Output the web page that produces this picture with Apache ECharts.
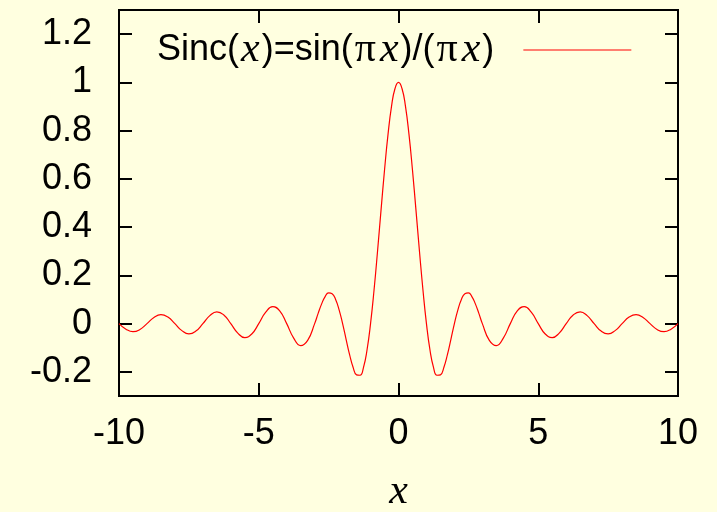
<!DOCTYPE html>
<html>
<head>
<meta charset="utf-8">
<script src="https://cdn.jsdelivr.net/npm/echarts@6/dist/echarts.min.js"></script>
<style>
  html, body { margin: 0; padding: 0; background: #ffffe0; }
  #chart { width: 717px; height: 512px; }
</style>
</head>
<body>
<div id="chart"></div>
<script>
// sample points (denser around the main lobe)
var xValues = [-10, -9.75, -9.5, -9.25, -9, -8.75, -8.5, -8.25, -8, -7.75, -7.5, -7.25, -7,
  -6.75, -6.5, -6.25, -6, -5.75, -5.5, -5.25, -5, -4.75, -4.5, -4.25, -4, -3.75, -3.5, -3.25,
  -3, -2.875, -2.75, -2.625, -2.5, -2.375, -2.25, -2.125, -2, -1.875, -1.75, -1.625, -1.5, -1.375, -1.25, -1.125,
  -1, -0.875, -0.75, -0.625, -0.5, -0.375, -0.25, -0.125, 0,
  0.125, 0.25, 0.375, 0.5, 0.625, 0.75, 0.875, 1,
  1.125, 1.25, 1.375, 1.5, 1.625, 1.75, 1.875, 2, 2.125, 2.25, 2.375, 2.5, 2.625, 2.75, 2.875, 3,
  3.25, 3.5, 3.75, 4, 4.25, 4.5, 4.75, 5, 5.25, 5.5, 5.75, 6, 6.25, 6.5, 6.75, 7,
  7.25, 7.5, 7.75, 8, 8.25, 8.5, 8.75, 9, 9.25, 9.5, 9.75, 10]
var sincValues = [0, -0.0231, -0.0335, -0.0243, 0, 0.0257, 0.0374, 0.0273, 0, -0.0290, -0.0424, -0.0310, 0,
  0.0333, 0.0490, 0.0360, 0, -0.0391, -0.0579, -0.0429, 0, 0.0474, 0.0707, 0.0530, 0, -0.0600, -0.0909, -0.0693,
  0, 0.0424, 0.0818, 0.1120, 0.1273, 0.1238, 0.1000, 0.0573, 0, -0.0650, -0.1286, -0.1810, -0.2122, -0.2139, -0.1801, -0.1083,
  0, 0.1392, 0.3001, 0.4705, 0.6366, 0.7842, 0.9003, 0.9745, 1,
  0.9745, 0.9003, 0.7842, 0.6366, 0.4705, 0.3001, 0.1392, 0,
  -0.1083, -0.1801, -0.2139, -0.2122, -0.1810, -0.1286, -0.0650, 0, 0.0573, 0.1000, 0.1238, 0.1273, 0.1120, 0.0818, 0.0424, 0,
  -0.0693, -0.0909, -0.0600, 0, 0.0530, 0.0707, 0.0474, 0, -0.0429, -0.0579, -0.0391, 0, 0.0360, 0.0490, 0.0333, 0,
  -0.0310, -0.0424, -0.0290, 0, 0.0273, 0.0374, 0.0257, 0, -0.0243, -0.0335, -0.0231, 0]
var yTicks = [-0.2, 0, 0.2, 0.4, 0.6, 0.8, 1, 1.2]
var seriesName = 'Sinc(x)=sin(πx)/(πx)'

var sansFont = '"Liberation Sans", Arial, sans-serif'
var serifFont = '"Liberation Serif", "Times New Roman", serif'

var points = []
for (var i = 0; i < xValues.length; i++) {
  points.push([xValues[i], sincValues[i]])
}

var chart = echarts.init(document.getElementById('chart'))
var tickStyle = { inside: true, length: 13, lineStyle: { color: '#000', width: 2 } }

var option = {
  backgroundColor: '#ffffe0',
  animation: false,
  grid: {
    left: 119, right: 39, top: 10, bottom: 116,
    outerBoundsMode: 'none',
    show: true, borderColor: '#000', borderWidth: 2, backgroundColor: 'transparent'
  },
  legend: {
    left: 152,
    top: 24,
    align: 'right',
    icon: 'rect',
    itemWidth: 108,
    itemHeight: 1.2,
    data: [seriesName],
    formatter: function () {
      return '{n|Sinc(}{i|x}{n|)=sin(}{p|π}{i|x}{n|)/(}{p|π}{i|x}{n|)}'
    },
    textStyle: {
      padding: [0, 24, 0, 0],
      rich: {
        n: { fontFamily: sansFont, fontSize: 36, color: '#000' },
        i: { fontFamily: serifFont, fontStyle: 'italic', fontSize: 42, color: '#000', padding: [0, 2, 0, 2] },
        p: { fontFamily: serifFont, fontSize: 42, color: '#000', padding: [0, 2, 0, 2] }
      }
    }
  },
  xAxis: [
    {
      type: 'value', min: -10, max: 10, interval: 5,
      name: 'x',
      nameLocation: 'middle',
      nameGap: 75,
      nameTextStyle: { fontFamily: serifFont, fontStyle: 'italic', fontSize: 42, color: '#000' },
      axisLine: { show: true, onZero: false, lineStyle: { color: '#000', width: 2 } },
      axisTick: tickStyle,
      axisLabel: { margin: 20, fontFamily: sansFont, fontSize: 36, color: '#000' },
      splitLine: { show: false }
    },
    {
      type: 'value', min: -10, max: 10, interval: 5, position: 'top',
      axisLine: { show: false, onZero: false },
      axisTick: tickStyle,
      axisLabel: { show: false },
      splitLine: { show: false }
    }
  ],
  yAxis: [
    {
      type: 'value', min: -0.3, max: 1.3,
      axisLine: { show: true, onZero: false, lineStyle: { color: '#000', width: 2 } },
      axisTick: Object.assign({ customValues: yTicks }, tickStyle),
      axisLabel: {
        customValues: yTicks,
        margin: 27,
        fontFamily: sansFont, fontSize: 36, color: '#000',
        formatter: function (v) { return String(v) }
      },
      splitLine: { show: false }
    },
    {
      type: 'value', min: -0.3, max: 1.3, position: 'right',
      axisLine: { show: false, onZero: false },
      axisTick: Object.assign({ customValues: yTicks }, tickStyle),
      axisLabel: { show: false },
      splitLine: { show: false }
    }
  ],
  series: [
    {
      name: seriesName,
      type: 'line',
      xAxisIndex: 0,
      yAxisIndex: 0,
      data: points,
      smooth: true,
      showSymbol: false,
      symbol: 'none',
      lineStyle: { color: '#ff0000', width: 1.2 },
      itemStyle: { color: '#ff0000' }
    }
  ]
}

chart.setOption(option)
window.addEventListener('resize', function () { chart.resize() })
</script>
</body>
</html>
